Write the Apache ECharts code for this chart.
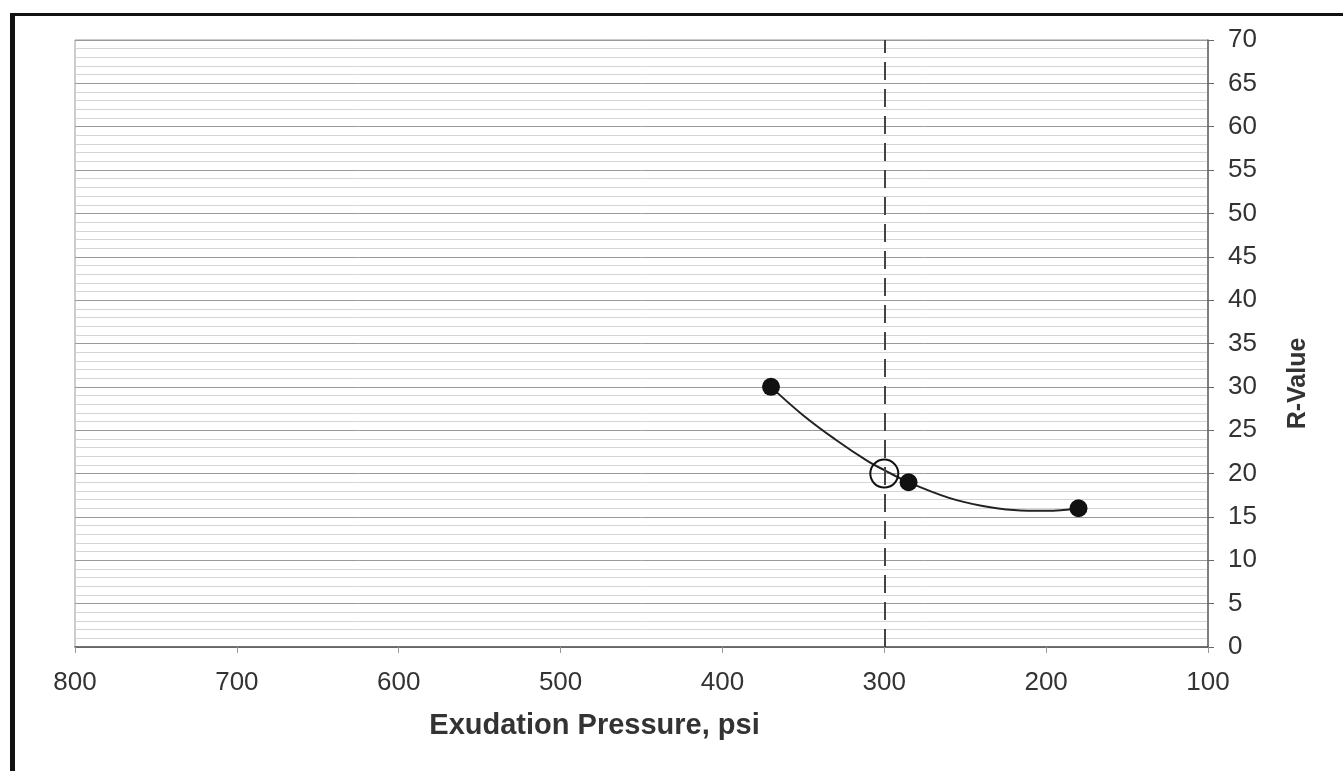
<!DOCTYPE html>
<html>
	<head>
		<meta charset="utf-8">
		<title>R-Value vs Exudation Pressure</title>
		<script src="https://cdn.jsdelivr.net/npm/echarts@6/dist/echarts.min.js"></script>
		<style>
			html, body { margin: 0; padding: 0; background: #fff; }
			#chart { width: 1343px; height: 771px; }
		</style>
	</head>
	<body>
		<div id="chart"></div>
		<script>
			// measured test points (exudation pressure, R-value)
			var testPressure = [370, 285, 180];
			var testR = [30, 19, 16];
			// design point on the 300 psi line
			var designPressure = [300];
			var designR = [20];
			// trend curve
			var curvePressure = [370, 350, 330, 310, 300, 285, 260, 240, 220, 200, 180];
			var curveR = [30, 26.7, 23.9, 21.4, 20.4, 19, 17.2, 16.3, 15.8, 15.7, 16];
			var xTicks = [800, 700, 600, 500, 400, 300, 200, 100];
			var yTicks = [0, 5, 10, 15, 20, 25, 30, 35, 40, 45, 50, 55, 60, 65, 70];

			function pairs(xs, ys) {
				var out = [];
				for (var i = 0; i < xs.length; i++) out.push([xs[i], ys[i]]);
				return out;
			}

			var chart = echarts.init(document.getElementById('chart'));
			var font = 'Liberation Sans, Arial, sans-serif';
			chart.setOption({
				backgroundColor: '#fff',
				animation: false,
				graphic: [
					{ type: 'rect', shape: { x: 10, y: 13, width: 5, height: 760 }, style: { fill: '#111' } },
					{ type: 'rect', shape: { x: 10, y: 13, width: 1333, height: 3 }, style: { fill: '#111' } }
				],
				grid: {
					left: 75, right: 135, top: 40, bottom: 124,
					show: true, borderColor: '#999', borderWidth: 1
				},
				xAxis: {
					type: 'value',
					inverse: true,
					min: xTicks[xTicks.length - 1],
					max: xTicks[0],
					interval: 100,
					name: 'Exudation Pressure, psi',
					nameLocation: 'middle',
					nameGap: 64,
					nameTextStyle: { fontFamily: font, fontSize: 29, fontWeight: 'bold', color: '#333', padding: [0, 94, 0, 0] },
					axisLine: { lineStyle: { color: '#555', width: 1.5 } },
					axisTick: { show: true, length: 6, inside: false, lineStyle: { color: '#999' } },
					axisLabel: { fontFamily: font, fontSize: 26, color: '#333', margin: 23 },
					splitLine: { show: false }
				},
				yAxis: {
					type: 'value',
					position: 'right',
					min: yTicks[0],
					max: yTicks[yTicks.length - 1],
					interval: 5,
					name: 'R-Value',
					nameLocation: 'middle',
					nameRotate: 90,
					nameGap: 78,
					nameTextStyle: { fontFamily: font, fontSize: 25, fontWeight: 'bold', color: '#333', padding: [0, 80, 0, 0] },
					axisLine: { show: true, lineStyle: { color: '#666', width: 1.5 } },
					axisTick: { show: true, length: 6, lineStyle: { color: '#666' } },
					axisLabel: { fontFamily: font, fontSize: 26, color: '#333', margin: 20 },
					splitLine: { show: true, lineStyle: { color: '#9a9a9a', width: 1 } },
					minorTick: { show: false, splitNumber: 5 },
					minorSplitLine: { show: true, lineStyle: { color: '#d4d4d4', width: 1 } }
				},
				series: [
					{
						name: 'trend',
						type: 'line',
						data: pairs(curvePressure, curveR),
						smooth: 0.4,
						showSymbol: false,
						lineStyle: { color: '#222', width: 2 },
						z: 3
					},
					{
						name: 'tests',
						type: 'scatter',
						data: pairs(testPressure, testR),
						symbolSize: 18,
						itemStyle: { color: '#111', opacity: 1 },
						z: 4,
						markLine: {
							silent: true,
							symbol: 'none',
							label: { show: false },
							lineStyle: { color: '#444', width: 2, type: [18, 9] },
							data: [{ xAxis: designPressure[0] }]
						}
					},
					{
						name: 'design',
						type: 'scatter',
						data: pairs(designPressure, designR),
						symbolSize: 28,
						itemStyle: { color: 'transparent', borderColor: '#111', borderWidth: 2, opacity: 1 },
						z: 5
					}
				]
			});
		</script>
	</body>
</html>
